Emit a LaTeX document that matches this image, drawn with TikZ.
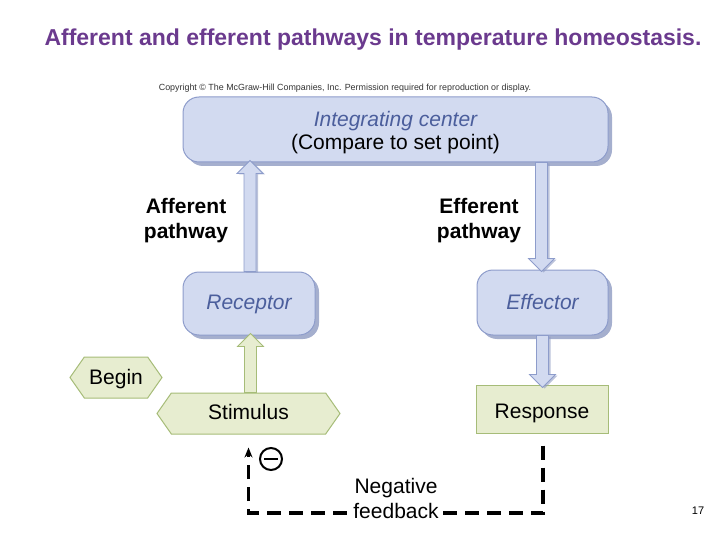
\documentclass[tikz,border=0pt]{standalone}
\usepackage{fontspec}
\setmainfont{Liberation Sans}
\usetikzlibrary{shapes.symbols,shadows,calc,arrows.meta}
\definecolor{boxfill}{HTML}{D2DAF0}
\definecolor{boxline}{HTML}{8D9CCB}
\definecolor{boxtext}{HTML}{4B5E9C}
\definecolor{shade}{HTML}{8F9BC2}
\definecolor{grfill}{HTML}{E7EDD0}
\definecolor{grline}{HTML}{A6BC78}
\definecolor{titlec}{HTML}{6B3A8E}
\newcommand{\lowerink}[2]{\raisebox{-#1}[\height][\depth]{#2}}
\tikzset{
  bluebox/.style={draw=boxline, fill=boxfill, line width=1pt, rounded corners=16pt,
    drop shadow={shadow xshift=4pt, shadow yshift=-4pt, fill=shade, opacity=0.8},
    font=\fontsize{21}{24}\selectfont, align=center, inner sep=0pt},
  oneline/.style={text height=15pt, text depth=4pt},
  greenhex/.style={draw=grline, fill=grfill, line width=1pt, shape=signal,
    signal to=west and east, signal pointer angle=110, inner sep=0pt,
    font=\fontsize{21}{25}\selectfont, oneline},
  greenbox/.style={draw=grline, fill=grfill, line width=1pt, inner sep=0pt,
    font=\fontsize{21}{25}\selectfont, oneline},
  bluearrow/.style={draw=boxline, fill=boxfill, line width=0.8pt, line join=miter,
    drop shadow={shadow xshift=2pt, shadow yshift=-1pt, fill=shade, opacity=0.6}},
  greenarrow/.style={draw=grline, fill=grfill, line width=0.8pt, line join=miter},
  label/.style={font=\bfseries\fontsize{21}{25}\selectfont, align=center},
  feedback/.style={draw=black, line width=3.2pt, dash pattern=on 14pt off 8pt},
}
\begin{document}
\begin{tikzpicture}[x=1pt,y=-1pt]
\useasboundingbox (0,0) rectangle (720,540);
\node[font=\bfseries\fontsize{23}{26}\selectfont, text=titlec] (title) at (373,39.5)
  {Afferent and efferent pathways in temperature homeostasis.};
\node[font=\fontsize{8.9}{10}\selectfont, text=black!80] (copy) at (345,88.5)
  {Copyright © The McGraw-Hill Companies, Inc. Permission required for reproduction or display.};
% boxes
\node[bluebox, minimum width=425pt, minimum height=65pt] (ic) at (395.5,129.5)
  {\lowerink{3.5pt}{\begin{tabular}{@{}c@{}}\textcolor{boxtext}{\itshape Integrating center}\\[-1pt](Compare to set point)\end{tabular}}};
\node[bluebox, oneline, minimum width=132pt, minimum height=63pt] (rec) at (249,303.5)
  {\textcolor{boxtext}{\itshape Receptor}};
\node[bluebox, oneline, minimum width=131pt, minimum height=65pt] (eff) at (542.5,302.5)
  {\lowerink{1pt}{\textcolor{boxtext}{\itshape Effector}}};
\node[greenhex, minimum width=92pt, minimum height=41pt] (begin) at (116,377.5) {\lowerink{1pt}{Begin}};
\node[greenhex, minimum width=183pt, minimum height=41pt] (stim) at (248.5,413.5) {Stimulus};
\node[greenbox, minimum width=132pt, minimum height=48pt] (resp) at (542,409) {\lowerink{3.5pt}{Response}};
% labels
\node[label] (aff) at (186,220.5) {Afferent\\pathway};
\node[label] (effl) at (479,220.5) {Efferent\\pathway};
% afferent arrow
\coordinate (A) at ($(rec.north)+(1,0)$);
\coordinate (T) at ($(A |- ic.south)+(0,-2)$);
\draw[bluearrow] ($(A)+(-6,0)$) -- ($(T)+(-6,13)$) -- ($(T)+(-13,13)$) -- (T)
  -- ($(T)+(13,13)$) -- ($(T)+(6,13)$) -- ($(A)+(6,0)$) -- cycle;
% efferent arrow
\coordinate (E) at ($(eff.north)+(-1,2)$);
\coordinate (S) at (E |- ic.south);
\draw[bluearrow] ($(S)+(-6,0)$) -- ($(E)+(-6,-13)$) -- ($(E)+(-13,-13)$) -- (E)
  -- ($(E)+(13,-13)$) -- ($(E)+(6,-13)$) -- ($(S)+(6,0)$) -- cycle;
% stimulus -> receptor
\coordinate (B) at ($(stim.north)+(2,0)$);
\coordinate (R) at ($(B |- rec.south)+(0,-2)$);
\draw[greenarrow] ($(B)+(-6,0)$) -- ($(R)+(-6,13)$) -- ($(R)+(-13,13)$) -- (R)
  -- ($(R)+(13,13)$) -- ($(R)+(6,13)$) -- ($(B)+(6,0)$) -- cycle;
% effector -> response
\coordinate (F) at (eff.south);
\coordinate (G) at ($(F |- resp.north)+(0,3)$);
\draw[bluearrow] ($(F)+(-6,0)$) -- ($(G)+(-6,-13)$) -- ($(G)+(-13,-13)$) -- (G)
  -- ($(G)+(13,-13)$) -- ($(G)+(6,-13)$) -- ($(F)+(6,0)$) -- cycle;
% negative feedback loop
\coordinate (fb1) at ($(resp.south)+(1,12)$);
\coordinate (fb2) at (fb1 |- 0,513);
\coordinate (fb4) at ($(stim.south)+(0,13)$);
\coordinate (fb3) at (fb4 |- 0,513);
\draw[feedback] (fb1) -- (fb2) -- (fb3) -- ($(fb4)+(0,8)$);
\draw[line width=2.5pt, -{Stealth[length=10pt,width=8pt]}] ($(fb4)+(0,9)$) -- (fb4);
\node[fill=white, inner sep=3pt, align=center, font=\fontsize{21}{25}\selectfont] (nf) at (396,498.5)
  {Negative\\feedback};
\node[circle, draw, line width=2pt, minimum size=22pt, inner sep=0pt] (minus) at (271,459) {};
\draw[line width=2.2pt] ($(minus.west)+(5,0)$) -- ($(minus.east)+(-5,0)$);
\node[font=\fontsize{11}{13}\selectfont] (pg) at (698,511) {17};
\end{tikzpicture}
\end{document}
